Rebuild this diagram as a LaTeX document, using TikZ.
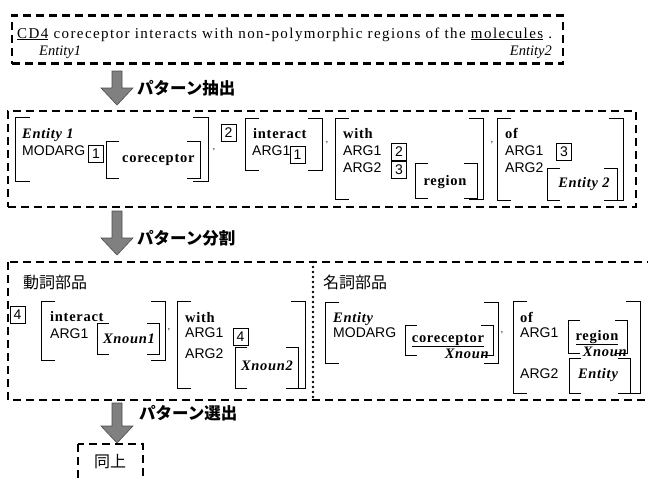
\documentclass[tikz,border=0pt]{standalone}
\usepackage{fontspec}
\setmainfont{Liberation Serif}
\newfontfamily\arial{Liberation Sans}
\newfontfamily\jp{Noto Sans CJK JP}
\newfontfamily\sentfont{Liberation Serif}[LetterSpace=9.5]
\newfontfamily\wide{Liberation Serif}[LetterSpace=5]

\tikzset{
  dashbox/.style={draw, line width=2.6pt, dash pattern=on 8pt off 5pt, inner sep=0pt},
  brk/.style={line width=0.9pt},
  feat/.style={font=\arial\fontsize{14}{16}\selectfont, anchor=base west, inner sep=0pt},
  typ/.style={font=\wide\bfseries\fontsize{14.5}{16}\selectfont, inner sep=0pt},
  ent/.style={font=\wide\bfseries\itshape\fontsize{14.5}{16}\selectfont, inner sep=0pt},
  numbox/.style={draw, line width=0.9pt, font=\arial\fontsize{14}{16}\selectfont, minimum width=15pt, minimum height=17pt, inner sep=0pt},
  comma/.style={font=\fontsize{9}{10}\selectfont, inner sep=0pt},
  stepname/.style={font=\jp\bfseries\fontsize{16.5}{18}\selectfont, anchor=west, inner sep=0pt},
  partname/.style={font=\jp\fontsize{16}{18}\selectfont, anchor=west, inner sep=0pt},
}

% AVM brackets: [tick] x1 y1 x2 y2
\newcommand\avm[5][14]{%
  \draw[brk] (#2+#1,#3) -| (#2,#5) -- (#2+#1,#5);
  \draw[brk] (#4-#1,#3) -| (#4,#5) -- (#4-#1,#5);}
% grey block arrow: x, top, tip
\newcommand\blockarrow[3]{%
  \draw[fill=black!50, draw=black!70, line width=0.6pt]
    (#1-5,#2) -- (#1+5,#2) -- (#1+5,#3-17) -- (#1+16,#3-17) -- (#1,#3)
    -- (#1-16,#3-17) -- (#1-5,#3-17) -- cycle;}

\begin{document}
\begin{tikzpicture}[x=1pt, y=-1pt]
\useasboundingbox (0,0) rectangle (648,479);

% input sentence
\node[dashbox, minimum width=551pt, minimum height=48pt] (sent) at (287.5,39.5) {};
\node[anchor=base west, inner sep=0pt, font=\sentfont\fontsize{15}{16}\selectfont] (text) at (17,38)
  {\underline{CD4} coreceptor interacts with non-polymorphic regions of the \underline{molecules} .};
\node[anchor=base west, inner sep=0pt, font=\itshape\fontsize{14.5}{16}\selectfont] (e1) at (39,55) {Entity1};
\node[anchor=base east, inner sep=0pt, font=\itshape\fontsize{14.5}{16}\selectfont] (e2) at (552,55) {Entity2};

\blockarrow{117}{71}{105}
\node[stepname] (extract) at (137,88) {パターン抽出};

% extracted pattern
\node[dashbox, minimum width=628pt, minimum height=96pt] (pattern) at (322,159) {};
\avm[15]{15}{117}{208}{181}
\node[ent, anchor=base west] (p1ent) at (22,138) {Entity 1};
\node[feat] (p1mod) at (22,155) {MODARG};
\node[numbox] (p1n) at (96,154) {1};
\avm[13]{106}{141}{200}{178}
\node[typ, anchor=base west] (p1core) at (122,162) {coreceptor};
\node[comma] at (214,150) {,};

\node[numbox] (p2n) at (228.5,132.5) {2};
\avm{245}{118}{322}{170}
\node[typ, anchor=base west] (p2head) at (253,138) {interact};
\node[feat] (p2arg) at (252,155) {ARG1};
\node[numbox] (p2a) at (297.5,155) {1};
\node[comma] at (327,143) {,};

\avm{335}{118}{483}{199}
\node[typ, anchor=base west] (p3head) at (343,138) {with};
\node[feat] (p3arg1) at (343,155) {ARG1};
\node[feat] (p3arg2) at (343,172) {ARG2};
\node[numbox] (p3a) at (399,152) {2};
\node[numbox] (p3b) at (399,169.5) {3};
\avm[13]{415}{163}{477}{198}
\node[typ, anchor=base] (p3reg) at (445,185) {region};
\node[comma] at (492,143) {,};

\avm{497}{118}{623}{200}
\node[typ, anchor=base west] (p4head) at (505,138) {of};
\node[feat] (p4arg1) at (505,155) {ARG1};
\node[feat] (p4arg2) at (505,172) {ARG2};
\node[numbox] (p4a) at (564,152) {3};
\avm[13]{547}{168}{617}{200}
\node[ent, anchor=base] (p4ent) at (584,187) {Entity 2};

\blockarrow{117}{211}{255}
\node[stepname] (split) at (137,238) {パターン分割};

% split parts
\draw[dashbox] (8,262) rectangle (655,400);
\draw[line width=2.6pt, dash pattern=on 0pt off 5pt, line cap=round] (313,262) -- (313,400);

\node[partname] (verb) at (23,282) {動詞部品};
\node[numbox] (v4) at (17.5,315) {4};
\avm{41}{301}{165}{360}
\node[typ, anchor=base west] (v1head) at (50,321) {interact};
\node[feat] (v1arg) at (50,338) {ARG1};
\avm[12]{97}{323}{159}{354}
\node[ent, anchor=base] (v1x) at (129,343) {Xnoun1};
\node[comma] at (169,330) {,};

\avm{177}{301}{305}{388}
\node[typ, anchor=base west] (v2head) at (185,322) {with};
\node[feat] (v2arg1) at (185,337) {ARG1};
\node[feat] (v2arg2) at (185,358) {ARG2};
\node[numbox] (v2a) at (240.5,336.5) {4};
\avm[12]{235}{347}{298}{388}
\node[ent, anchor=base] (v2x) at (267,370) {Xnoun2};

\node[partname] (noun) at (323,282) {名詞部品};
\avm{325}{302}{498}{363}
\node[ent, anchor=base west] (n1ent) at (333,322) {Entity};
\node[feat] (n1mod) at (333,337) {MODARG};
\avm[12]{405}{325}{493}{355}
\node[typ, anchor=base] (n1core) at (448,342) {\underline{coreceptor}};
\node[ent, anchor=base east] (n1x) at (489,358) {Xnoun};
\node[comma] at (502,333) {,};

\avm{513}{301}{640}{393}
\node[typ, anchor=base west] (n2head) at (520,322) {of};
\node[feat] (n2arg1) at (520,337) {ARG1};
\node[feat] (n2arg2) at (520,378) {ARG2};
\avm[12]{568}{320}{627}{353}
\node[typ, anchor=base] (n2reg) at (597,340) {\underline{region}};
\node[ent, anchor=base east] (n2x) at (627,356) {Xnoun};
\avm[12]{569}{358}{630}{393}
\node[ent, anchor=base] (n2ent) at (598,378) {Entity};

\blockarrow{117}{403}{443}
\node[stepname] (select) at (139,413) {パターン選出};

% result
\draw[dashbox] (78,444) rectangle (143,486);
\node[font=\jp\fontsize{16}{18}\selectfont, inner sep=0pt] (same) at (110,462) {同上};
\end{tikzpicture}
\end{document}
